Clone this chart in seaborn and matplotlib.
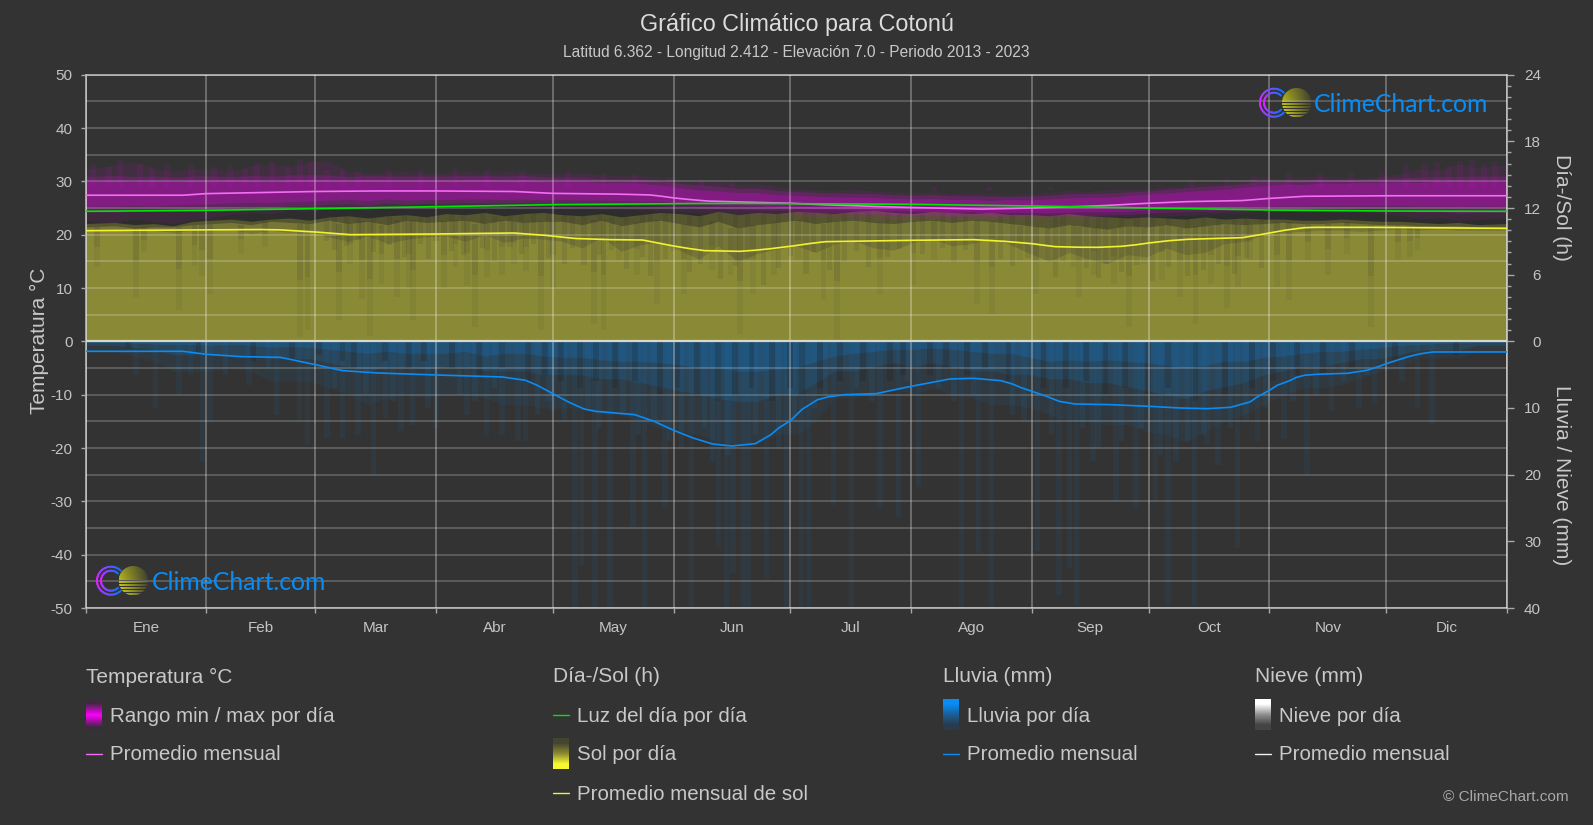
import numpy as np
import matplotlib
matplotlib.use('Agg')
import matplotlib.pyplot as plt
from matplotlib.patches import Circle
import seaborn as sns

W, H = 1593, 825
BG = '#333333'

month_starts = [0, 31, 59, 90, 120, 151, 181, 212, 243, 273, 304, 334, 365]
month_mids = [15.5, 45, 74.5, 105, 135.5, 166, 196.5, 227.5, 258, 288.5, 319, 349.5]
month_names = ['Ene', 'Feb', 'Mar', 'Abr', 'May', 'Jun', 'Jul', 'Ago', 'Sep', 'Oct', 'Nov', 'Dic']

# monthly curves
temp_days = [0, 25, 31, 45, 59, 75, 90, 110, 120, 137, 145, 148, 151, 155, 160, 170, 181, 190, 212, 230, 243, 260, 273, 283, 297, 304, 313, 334, 365]
temp_avg = [27.4, 27.4, 27.7, 27.9, 28.1, 28.2, 28.2, 28.1, 27.75, 27.6, 27.45, 27.2, 26.9, 26.6, 26.3, 26.1, 25.9, 25.6, 25.1, 24.8, 25.0, 25.4, 25.9, 26.2, 26.4, 26.8, 27.2, 27.3, 27.3]

sun_days = [0, 30, 45, 50, 59, 68, 90, 110, 118, 122, 126, 135, 143, 147, 151, 155, 159, 168, 172, 176, 182, 186, 190, 212, 228, 236, 243, 246, 249, 255, 260, 266, 270, 273, 278, 283, 297, 300, 304, 308, 313, 316, 330, 365]
sun_avg = [9.96, 10.03, 10.06, 10.03, 9.84, 9.6, 9.66, 9.75, 9.54, 9.39, 9.25, 9.15, 9.12, 8.85, 8.58, 8.35, 8.16, 8.1, 8.2, 8.34, 8.6, 8.8, 8.97, 9.09, 9.15, 9.0, 8.79, 8.65, 8.52, 8.47, 8.46, 8.55, 8.7, 8.85, 9.05, 9.18, 9.33, 9.5, 9.75, 10.0, 10.23, 10.26, 10.26, 10.17]

light_days = [0, 31, 59, 90, 120, 152, 167, 181, 212, 243, 273, 304, 334, 365]
light_hours = [11.7, 11.79, 11.94, 12.12, 12.3, 12.39, 12.42, 12.39, 12.33, 12.18, 12.0, 11.82, 11.73, 11.7]

rain_days = [0, 25, 31, 40, 50, 59, 66, 75, 90, 107, 113, 116, 120, 124, 128, 131, 134, 141, 146, 151, 156, 161, 166, 172, 176, 178, 181, 184, 188, 191, 195, 203, 212, 217, 222, 228, 235, 238, 240, 243, 247, 250, 254, 263, 273, 281, 288, 294, 299, 301, 304, 306, 309, 311, 313, 316, 324, 329, 332, 334, 337, 340, 343, 346, 365]
rain_avg = [1.5, 1.5, 1.95, 2.3, 2.4, 3.5, 4.4, 4.75, 5.05, 5.35, 5.85, 6.6, 7.85, 9.1, 10.15, 10.5, 10.65, 11.0, 12.0, 13.35, 14.5, 15.4, 15.7, 15.35, 14.0, 13.0, 11.9, 10.2, 8.75, 8.3, 8.0, 7.85, 6.75, 6.2, 5.65, 5.55, 5.9, 6.4, 6.9, 7.5, 8.3, 9.0, 9.4, 9.5, 9.75, 10.0, 10.1, 9.9, 9.1, 8.3, 7.35, 6.6, 5.95, 5.4, 5.1, 4.95, 4.8, 4.35, 3.8, 3.35, 2.8, 2.25, 1.85, 1.6, 1.6]

# 5 day bins across the year, first and last one run out to the axis
bin_days = [0] + [2.5 + 5 * i for i in range(1, 72)] + [365]

temp_far_hi = [32.3, 33.0, 33.6, 32.6, 31.9, 32.4, 32.5, 31.9, 32.9, 33.3, 32.6, 33.7, 33.8, 31.9, 31.6, 31.7, 31.8, 31.6, 31.7, 31.9, 31.6, 31.8, 31.7, 31.5, 31.4, 31.6, 31.2, 31.0, 31.1, 30.8, 30.2, 30.0, 30.3, 29.4, 29.6, 29.0, 28.6, 28.4, 28.2, 28.5, 28.2, 28.0, 27.9, 28.0, 27.7, 27.8, 27.7, 27.6, 27.7, 27.9, 28.3, 28.1, 28.4, 28.6, 28.7, 29.0, 29.2, 29.8, 29.6, 30.3, 30.8, 30.5, 30.9, 31.0, 30.8, 30.6, 31.0, 31.4, 32.4, 32.0, 33.2, 32.6, 33.0]
temp_far_lo = [22.6, 22.2, 23.0, 22.4, 22.0, 22.8, 23.2, 23.8, 24.1, 23.9, 24.6, 24.3, 24.8, 25.0, 24.6, 25.1, 24.9, 25.2, 25.1, 25.4, 25.2, 25.4, 25.3, 25.1, 24.9, 25.0, 24.8, 24.9, 24.6, 24.4, 24.3, 24.1, 24.2, 23.8, 23.6, 23.9, 23.5, 23.3, 23.4, 23.1, 23.2, 22.9, 22.9, 23.0, 22.8, 22.9, 23.0, 23.1, 23.0, 23.1, 23.2, 22.9, 23.2, 23.3, 23.3, 23.5, 23.6, 23.8, 24.0, 24.1, 24.3, 24.4, 24.2, 24.4, 24.1, 24.2, 24.0, 23.6, 23.0, 23.2, 22.6, 22.9, 23.1]
temp_mid_hi = [30.9, 31.1, 30.9, 31.0, 30.8, 31.0, 31.0, 30.9, 31.1, 31.0, 31.2, 31.2, 31.2, 30.9, 31.1, 31.0, 31.0, 31.0, 31.0, 31.1, 31.1, 31.0, 31.1, 30.9, 30.7, 30.8, 30.5, 30.5, 30.4, 30.1, 29.6, 29.3, 29.1, 28.7, 28.7, 28.3, 28.1, 27.9, 27.8, 27.8, 27.7, 27.5, 27.4, 27.5, 27.3, 27.3, 27.2, 27.2, 27.2, 27.4, 27.7, 27.7, 27.8, 28.0, 28.2, 28.5, 28.8, 29.1, 29.2, 29.6, 30.0, 30.1, 30.2, 30.4, 30.3, 30.4, 30.6, 30.7, 30.8, 30.9, 30.9, 31.0, 31.0]
temp_mid_lo = [24.4, 24.2, 24.5, 24.3, 24.4, 24.7, 24.8, 25.1, 25.2, 25.0, 25.4, 25.4, 25.7, 25.8, 25.5, 25.9, 25.7, 25.9, 25.9, 26.0, 26.0, 26.0, 26.0, 25.8, 25.8, 25.8, 25.7, 25.7, 25.5, 25.4, 25.2, 25.0, 24.9, 24.7, 24.6, 24.6, 24.3, 24.1, 24.1, 23.9, 23.9, 23.7, 23.7, 23.7, 23.5, 23.6, 23.5, 23.6, 23.6, 23.6, 23.7, 23.6, 23.7, 23.8, 24.0, 24.2, 24.3, 24.4, 24.5, 24.6, 24.8, 24.9, 24.8, 25.0, 24.8, 24.9, 24.8, 24.6, 24.2, 24.3, 24.0, 24.2, 24.2]
temp_core_hi = [30.0, 30.2, 29.9, 30.1, 30.0, 30.2, 30.1, 30.3, 30.2, 30.0, 30.3, 30.4, 30.3, 30.2, 30.4, 30.3, 30.2, 30.3, 30.2, 30.3, 30.4, 30.2, 30.3, 30.1, 29.9, 30.0, 29.7, 29.8, 29.6, 29.3, 28.8, 28.4, 28.2, 27.9, 27.9, 27.5, 27.4, 27.2, 27.1, 27.0, 27.0, 26.8, 26.7, 26.8, 26.6, 26.6, 26.4, 26.6, 26.5, 26.7, 26.9, 27.0, 27.0, 27.3, 27.6, 27.8, 28.1, 28.3, 28.5, 28.9, 29.2, 29.5, 29.4, 29.7, 29.6, 29.8, 29.8, 29.9, 29.8, 30.0, 29.9, 30.0, 30.0]
temp_core_lo = [25.3, 25.4, 25.5, 25.4, 25.6, 25.7, 25.8, 26.0, 26.1, 26.0, 26.2, 26.3, 26.5, 26.6, 26.4, 26.7, 26.5, 26.6, 26.6, 26.7, 26.7, 26.6, 26.7, 26.5, 26.6, 26.5, 26.5, 26.4, 26.3, 26.3, 26.0, 25.9, 25.6, 25.5, 25.4, 25.2, 25.0, 24.9, 24.8, 24.6, 24.6, 24.5, 24.4, 24.4, 24.2, 24.3, 24.1, 24.2, 24.2, 24.1, 24.2, 24.3, 24.3, 24.4, 24.6, 24.8, 24.9, 25.0, 25.1, 25.2, 25.3, 25.4, 25.4, 25.5, 25.5, 25.5, 25.5, 25.5, 25.4, 25.4, 25.3, 25.4, 25.3]

# single hot days poking out above the band
tip_days = [2, 6, 9, 14, 17, 21, 27, 33, 37, 41, 44, 48, 52, 55, 58, 62, 66, 70, 78, 86, 95, 103, 112, 124, 133, 141, 150, 158, 166, 176, 188, 200, 218, 232, 248, 258, 266, 276, 284, 293, 300, 309, 317, 325, 333, 339, 344, 347, 350, 353, 356, 359, 362]
tip_hi = [33.2, 32.6, 34.0, 33.4, 32.4, 33.2, 33.0, 32.6, 33.0, 32.4, 33.6, 33.8, 33.0, 34.2, 33.6, 32.2, 32.4, 32.0, 32.1, 32.2, 32.3, 32.1, 31.9, 31.8, 31.5, 31.3, 30.9, 30.4, 30.0, 29.2, 29.0, 28.7, 28.2, 28.2, 28.4, 28.8, 28.9, 29.4, 30.0, 30.4, 31.0, 31.6, 31.4, 31.5, 32.0, 33.0, 33.4, 33.6, 32.8, 33.9, 34.0, 33.2, 33.6]

sun_peak = [10.6, 10.7, 10.5, 10.6, 10.4, 10.8, 10.9, 11.0, 10.8, 11.0, 11.1, 10.9, 11.2, 11.3, 11.1, 11.3, 11.4, 11.2, 11.5, 11.4, 11.6, 11.3, 11.5, 11.6, 11.4, 11.3, 11.5, 11.2, 11.4, 11.6, 11.5, 11.3, 11.7, 11.4, 11.6, 11.5, 11.7, 11.6, 11.5, 11.7, 11.8, 11.6, 11.5, 11.7, 11.6, 11.5, 11.6, 11.4, 11.4, 11.3, 11.5, 11.3, 11.2, 11.1, 11.2, 11.1, 11.0, 11.2, 11.0, 11.1, 11.0, 11.0, 10.9, 10.9, 11.0, 10.9, 10.8, 10.8, 10.7, 10.6, 10.7, 10.5, 10.6]
sun_mid = [10.3, 10.4, 10.2, 10.3, 10.3, 10.5, 10.6, 10.7, 10.5, 10.8, 10.7, 10.6, 10.9, 10.6, 10.8, 10.5, 10.9, 10.7, 10.8, 10.9, 10.6, 10.9, 10.7, 10.8, 10.8, 10.5, 10.9, 10.4, 10.7, 10.9, 10.6, 10.3, 10.8, 10.2, 10.5, 10.7, 10.9, 10.6, 10.8, 10.9, 10.7, 10.6, 10.8, 10.9, 10.7, 10.9, 10.8, 10.6, 10.4, 10.2, 10.5, 10.3, 10.1, 10.4, 10.3, 10.5, 10.2, 10.4, 10.6, 10.5, 10.6, 10.7, 10.6, 10.6, 10.7, 10.6, 10.5, 10.5, 10.4, 10.4, 10.4, 10.3, 10.3]
sun_solid = [10.0, 10.1, 9.9, 10.0, 9.8, 10.0, 10.0, 10.1, 9.7, 10.0, 9.8, 9.9, 9.4, 9.0, 9.5, 8.8, 9.2, 9.4, 9.5, 9.0, 9.6, 8.9, 9.3, 9.2, 9.0, 8.4, 9.4, 8.1, 8.7, 9.0, 8.2, 7.4, 8.6, 7.2, 7.9, 8.3, 8.6, 8.0, 8.8, 9.0, 8.4, 8.2, 8.9, 9.2, 8.6, 8.8, 9.3, 8.7, 7.9, 7.2, 8.0, 7.4, 7.0, 7.8, 7.6, 8.4, 7.8, 8.0, 8.8, 9.0, 9.6, 9.8, 9.9, 10.0, 10.0, 9.9, 10.0, 10.1, 10.0, 10.1, 10.0, 10.0, 10.0]

# days with little sun, they show as dark streaks hanging from the top
dip_days = [3, 13, 15, 24, 28, 30, 32, 40, 46, 55, 57, 65, 68, 71, 73, 76, 80, 83, 84, 92, 95, 98, 100, 103, 107, 110, 113, 117, 120, 130.5, 133, 137, 141.6, 146.7, 153.6, 160.9, 165.6, 168, 171.5, 176.7, 183, 189.5, 193, 204, 212.6, 217.8, 229, 232.8, 240, 244, 247, 253.7, 255, 258.9, 264, 268, 271.7, 276.4, 281, 285, 289, 293, 296, 299, 306, 309, 314, 319, 324, 330, 337, 340, 342]
dip_hours = [6.7, 4.0, 8.0, 2.8, 6.8, 5.9, 4.3, 7.9, 8.5, 0.4, 1.0, 1.9, 7.0, 3.8, 0.5, 5.2, 4.0, 4.8, 1.9, 4.8, 6.7, 5.0, 1.3, 5.8, 6.0, 7.0, 6.3, 1.0, 4.8, 1.6, 1.0, 7.3, 6.0, 3.4, 4.3, 6.4, 6.0, 0.7, 4.3, 6.0, 7.3, 3.7, 0.1, 4.3, 5.1, 7.3, 3.4, 2.5, 7.3, 4.3, 7.3, 6.7, 4.0, 6.0, 5.2, 1.3, 7.0, 5.5, 4.0, 1.6, 5.2, 3.0, 4.9, 7.3, 4.9, 3.7, 7.3, 6.0, 7.9, 1.3, 7.3, 7.6, 8.2]
# shorter and weaker streaks
streak_days = [62, 64, 67, 70, 74, 78, 82, 86, 88, 90, 94, 97, 102, 105, 109, 112, 115, 119, 123, 125, 128, 132, 135, 139, 143, 145, 149, 151, 155, 158, 163, 167, 170, 174, 178, 181, 185, 187, 191, 195, 198, 201, 206, 209, 215, 220, 223, 226, 235, 238, 242, 249, 251, 257, 260, 262, 266, 270, 274, 278, 283, 287, 291, 295, 298, 302]
streak_hours = [9.0, 8.2, 8.6, 9.1, 8.0, 8.7, 7.6, 8.8, 7.4, 9.0, 8.1, 7.8, 8.4, 7.2, 8.5, 7.9, 8.8, 7.5, 7.0, 8.4, 6.9, 7.8, 8.2, 6.5, 7.6, 5.9, 7.4, 8.1, 6.2, 7.0, 5.6, 6.8, 7.3, 5.1, 6.6, 7.7, 6.1, 8.0, 6.4, 7.2, 8.1, 6.7, 7.6, 8.3, 7.9, 8.4, 7.1, 8.2, 7.4, 6.8, 7.5, 5.8, 7.2, 6.6, 5.7, 7.0, 6.2, 6.9, 5.4, 6.7, 5.9, 6.4, 7.0, 6.1, 7.5, 6.6]

rain_shallow = [0.2, 0.2, 0.3, 0.4, 0.5, 0.5, 0.6, 0.5, 0.6, 0.9, 0.8, 0.9, 1.2, 1.5, 1.8, 1.5, 1.8, 1.8, 1.8, 1.5, 2.2, 1.8, 1.8, 2.2, 2.4, 2.4, 2.8, 3.0, 3.0, 3.2, 3.5, 4.0, 4.0, 4.5, 4.5, 4.2, 4.0, 3.0, 2.2, 1.8, 1.5, 1.2, 1.2, 1.0, 1.2, 1.5, 1.8, 1.8, 2.4, 3.0, 2.8, 3.0, 2.8, 3.0, 3.2, 3.6, 4.0, 3.6, 3.0, 3.0, 2.4, 2.2, 1.8, 1.5, 1.5, 1.2, 1.0, 0.6, 0.5, 0.3, 0.3, 0.2, 0.2]
rain_mid = [0.6, 0.6, 0.9, 1.2, 2.0, 2.0, 2.0, 2.0, 2.2, 2.6, 2.6, 2.6, 3.2, 3.8, 4.4, 3.8, 3.8, 4.2, 3.8, 3.8, 4.4, 4.4, 4.4, 5.0, 5.0, 5.0, 5.6, 5.6, 6.2, 6.8, 7.4, 8.0, 8.6, 9.0, 9.0, 8.0, 8.0, 6.2, 4.4, 4.4, 3.8, 3.2, 3.8, 3.2, 3.8, 4.4, 4.4, 5.0, 5.0, 5.6, 5.6, 6.2, 6.2, 6.8, 7.4, 8.0, 8.6, 7.4, 6.8, 6.2, 5.0, 4.4, 3.8, 3.8, 3.2, 2.6, 2.6, 2.0, 1.3, 1.3, 1.3, 0.6, 0.6]
rain_deep = [1.5, 1.5, 2.2, 3.0, 4.5, 4.5, 4.5, 4.0, 4.5, 6.0, 6.0, 6.0, 7.0, 8.0, 9.5, 8.5, 8.0, 8.5, 8.0, 8.0, 8.5, 9.5, 9.5, 10.0, 10.0, 10.0, 11.0, 11.0, 12.0, 13.0, 13.5, 14.0, 15.0, 15.5, 15.5, 14.0, 14.0, 12.0, 8.5, 8.5, 8.0, 7.0, 8.0, 7.0, 8.0, 8.5, 9.5, 9.5, 10.0, 11.0, 12.0, 12.0, 12.5, 12.5, 13.5, 14.0, 15.0, 13.5, 12.0, 11.0, 9.5, 8.0, 7.0, 7.0, 6.5, 5.5, 4.5, 4.0, 2.5, 2.5, 2.5, 1.5, 1.5]

spike_days = [13, 18, 24, 27, 30, 32, 42, 49, 55, 57, 62, 66, 70, 74, 77, 81, 84, 90, 98, 103, 107, 111, 113, 120, 125.7, 127.4, 130.8, 134.7, 140.6, 143.6, 148.8, 155.6, 162.5, 164.6, 166.3, 168.9, 170.2, 174.9, 180, 183.9, 185.6, 192, 196.7, 204, 208.7, 213.9, 225, 229.3, 232.7, 244.4, 250, 252.7, 254.5, 258.7, 264.6, 269.7, 274.7, 277.9, 284.8, 288, 290.8, 295.8, 300.9, 307.7, 313.7, 320, 327, 331, 338, 342, 345.8]
spike_mm = [5, 10, 8, 5, 18, 12, 6.5, 11, 12, 15.5, 14.5, 14.5, 14, 20, 11.5, 13.5, 12.5, 13, 11, 14, 14, 15, 15, 10.5, 40, 33.5, 40, 40, 27.8, 40, 24.8, 40, 30.8, 40, 34.8, 40, 40, 35.8, 40, 40, 40, 24.5, 40, 24.8, 26.3, 21.8, 40, 31.8, 40, 31.5, 38, 34, 39.6, 18, 24, 25, 24, 39.6, 39.6, 15.6, 18.6, 31, 15, 14.6, 20, 10.5, 10, 9.4, 6, 10, 12.5]

# shorter wet streaks that break up the fade
wet_days = [36, 47, 64, 72, 79, 88, 96, 100, 105, 116, 119, 123, 129, 132, 138, 142, 146, 150, 153, 159, 161, 165, 172, 178, 182, 187, 190, 198, 202, 211, 219, 223, 228, 238, 241, 248, 256, 260, 266, 271, 276, 280, 283, 287, 294, 298, 303, 310, 316, 323, 329]
wet_mm = [5, 4, 7, 8, 9, 10, 8, 9, 7, 11, 9, 12, 10, 13, 11, 14, 12, 15, 16, 13, 18, 17, 14, 16, 12, 10, 8, 7, 9, 6, 7, 9, 8, 11, 12, 14, 13, 16, 15, 13, 17, 18, 15, 14, 13, 12, 10, 9, 8, 6, 5]

gap_days = [11, 29, 43, 53, 60, 66, 69, 77, 83, 87, 94, 101, 107, 113.7, 118, 122, 127, 131, 136, 141, 147.5, 152, 157, 162.5, 166.8, 171, 176.2, 181, 184, 188.6, 193.7, 199.7, 206.6, 210, 216.8, 221, 226.3, 231, 237, 246, 251.8, 257, 261.9, 267, 272.9, 278, 285, 292.6, 299.5, 305, 311, 317.8, 325.2, 336.2, 351.8]
gap_mm = [1, 2, 3, 3, 2, 3, 4, 3, 4, 3, 4, 5, 4, 6, 5, 6, 7, 6, 7, 6, 8, 7, 8, 9, 8, 7, 9, 7, 8, 7, 6, 6, 6, 5, 5, 4, 5, 4, 6, 7, 7, 6, 8, 7, 8, 7, 9, 8, 7, 6, 5, 5, 4, 3, 2]

sns.set_theme(style='dark', rc={
    'figure.facecolor': BG,
    'axes.facecolor': 'none',
    'axes.edgecolor': '#c4c4c4',
    'xtick.color': '#a8a8a8',
    'ytick.color': '#a8a8a8',
    'xtick.labelcolor': '#c4c4c4',
    'ytick.labelcolor': '#c4c4c4',
})
plt.rcParams['font.family'] = ['Liberation Sans', 'DejaVu Sans']
plt.rcParams['axes.unicode_minus'] = False

fig = plt.figure(figsize=(W / 100, H / 100), dpi=100, facecolor=BG)

left, right, top, zero, bottom = 85.5, 1507.0, 74.7, 341.3, 608.0


def axes_px(t, b, z):
    a = fig.add_axes([left / W, 1 - b / H, (right - left) / W, (b - t) / H], zorder=z)
    a.patch.set_visible(False)
    return a


sun_ax = axes_px(top, zero, 1)
rain_ax = axes_px(zero, bottom, 1)
ax = axes_px(top, bottom, 2)
deco = fig.add_axes([0, 0, 1, 1], zorder=3)
deco.patch.set_visible(False)
deco.axis('off')

# sun, solid olive with dimmer tops
sun_ax.fill_between(light_days, light_hours, color='#2d2d2d', linewidth=0)
sun_ax.fill_between(bin_days, sun_peak, color='#55552f', linewidth=0)
sun_ax.fill_between(bin_days, sun_mid, color='#767636', linewidth=0)
sun_ax.fill_between(bin_days, sun_solid, color='#8a8a36', linewidth=0)
dip_tops = [sun_mid[min(int(d // 5), 72)] for d in dip_days]
dip_half = [(t + d) / 2 for t, d in zip(dip_tops, dip_hours)]
sun_ax.bar(dip_days, [t - d for t, d in zip(dip_tops, dip_hours)], bottom=dip_hours, width=1.5,
           color='#333333', alpha=0.07, linewidth=0)
sun_ax.bar(dip_days, [t - d for t, d in zip(dip_tops, dip_half)], bottom=dip_half, width=1.5,
           color='#333333', alpha=0.1, linewidth=0)
streak_tops = [sun_peak[min(int(d // 5), 72)] for d in streak_days]
sun_ax.bar(streak_days, [t - d for t, d in zip(streak_tops, streak_hours)], bottom=streak_hours, width=1.3,
           color='#333333', alpha=0.13, linewidth=0)

# rain, alpha layers stack into the fade
rain_blue = '#0d80d8'
rain_ax.fill_between(bin_days, rain_deep, color=rain_blue, alpha=0.08, linewidth=0)
rain_ax.bar(spike_days, spike_mm, width=1.4, color=rain_blue, alpha=0.08, linewidth=0)
rain_ax.bar(wet_days, wet_mm, width=1.4, color=rain_blue, alpha=0.1, linewidth=0)
rain_ax.fill_between(bin_days, rain_mid, color=rain_blue, alpha=0.17, linewidth=0)
rain_ax.fill_between(bin_days, rain_shallow, color=rain_blue, alpha=0.24, linewidth=0)
rain_ax.bar(gap_days, gap_mm, width=1.5, color='#222222', alpha=0.24, linewidth=0)

# temperature band
temp_col = '#f000f0'
ax.bar(tip_days, [h - 29 for h in tip_hi], bottom=29, width=1.5, color=temp_col, alpha=0.07, linewidth=0)
for lo, hi, al in [(temp_far_lo, temp_far_hi, 0.08), (temp_mid_lo, temp_mid_hi, 0.18), (temp_core_lo, temp_core_hi, 0.24)]:
    ax.fill_between(bin_days, lo, hi, color=temp_col, alpha=al, linewidth=0)

sns.lineplot(x=temp_days, y=temp_avg, color='#f56cf5', linewidth=1.2, zorder=4, ax=ax)
sns.lineplot(x=light_days, y=light_hours, color='#00e600', linewidth=1.2, zorder=4, ax=ax, transform=sun_ax.transData)
sns.lineplot(x=sun_days, y=sun_avg, color='#f2f230', linewidth=1.2, zorder=4, ax=ax, transform=sun_ax.transData)
sns.lineplot(x=rain_days, y=rain_avg, color='#0a8cf5', linewidth=1.2, zorder=4, ax=ax, transform=rain_ax.transData)

# main axes
ax.set_xlim(0, 365)
ax.set_ylim(-50, 50)
ax.set_xticks(month_starts)
ax.set_xticklabels([])
ax.set_xticks(month_mids, month_names, minor=True)
ax.set_yticks(range(-50, 51, 10))
ax.set_yticks(range(-45, 50, 10), minor=True)
ax.set_axisbelow(False)
ax.grid(False)
ax.grid(which='major', axis='x', color='white', alpha=0.36, linewidth=1.1)
ax.grid(which='major', axis='y', color='white', alpha=0.25, linewidth=1.1)
ax.grid(which='minor', axis='y', color='white', alpha=0.25, linewidth=1.1)
ax.tick_params(axis='x', which='major', length=3.8, width=1, bottom=True)
ax.tick_params(axis='x', which='minor', length=0, labelsize=11, pad=9.5, bottom=False)
ax.tick_params(axis='y', which='major', length=3.8, width=1, labelsize=11, pad=5.4, left=True)
ax.tick_params(axis='y', which='minor', length=0)
ax.axhline(0, color='#d8d8c8', linewidth=1.6, zorder=3)
for s in ax.spines.values():
    s.set_visible(True)
    s.set_linewidth(1.1)
ax.set_xlabel('')
ax.set_ylabel('')

# right side scales
sun_ax.set_xlim(0, 365)
sun_ax.set_ylim(0, 24)
rain_ax.set_xlim(0, 365)
rain_ax.set_ylim(40, 0)
for a in (sun_ax, rain_ax):
    a.set_xticks([])
    a.set_xlabel('')
    a.set_ylabel('')
    a.grid(False)
    a.yaxis.tick_right()
    for s in a.spines.values():
        s.set_visible(False)
sun_ax.set_yticks(range(0, 25, 6))
sun_ax.set_yticks(range(0, 25), minor=True)
rain_ax.set_yticks(range(10, 41, 10))
for a in (sun_ax, rain_ax):
    a.tick_params(axis='y', which='major', length=5, width=1, labelsize=11, pad=19.5, right=True)
    a.tick_params(axis='y', which='minor', length=3, width=1, right=True)
    for lab in a.get_yticklabels():
        lab.set_ha('right')


# everything below is placed in pixels on the overlay
def put(x, y, s, size=14.8, color='#c8c8c8', **kw):
    kw.setdefault('va', 'center')
    deco.text(x, y, s, fontsize=size, color=color, **kw)


put(W / 2, 24.5, 'Gráfico Climático para Cotonú', size=16.8, color='#dcdcdc', ha='center')
put(W / 2, 53, 'Latitud 6.362 - Longitud 2.412 - Elevación 7.0 - Periodo 2013 - 2023', size=11.2, ha='center')
put(39, zero, 'Temperatura °C', size=15, rotation=90, ha='center')
put(1561, 207, 'Día-/Sol (h)', size=15, rotation=270, ha='center')
put(1561, 475, 'Lluvia / Nieve (mm)', size=15, rotation=270, ha='center')
put(1569, 797, '© ClimeChart.com', size=11.1, color='#a8a8a8', ha='right')


def gradient(x, t, b, stops):
    rows = np.array([matplotlib.colors.to_rgb(c) for c in stops])[:, None, :]
    deco.imshow(rows, extent=[x, x + 16, b, t], aspect='auto', interpolation='bilinear', zorder=2)


cols = [86, 553.4, 943, 1255]
for x, s in zip(cols, ['Temperatura °C', 'Día-/Sol (h)', 'Lluvia (mm)', 'Nieve (mm)']):
    put(x, 677, s, size=15)

gradient(cols[0], 700, 730, ['#3d2a3d', '#a010a0', '#ff00ff', '#a010a0', '#3d2a3d'])
put(cols[0] + 24, 716, 'Rango min / max por día')
deco.plot([cols[0], cols[0] + 16], [754, 754], color='#f56cf5', lw=1.0)
put(cols[0] + 24, 755, 'Promedio mensual')

deco.plot([cols[1], cols[1] + 16], [715, 715], color='#00e600', lw=1.0)
put(cols[1] + 24, 716, 'Luz del día por día')
gradient(cols[1], 738, 769, ['#44442f', '#8a8a30', '#f8f830'])
put(cols[1] + 24, 755, 'Sol por día')
deco.plot([cols[1], cols[1] + 16], [793, 793], color='#f2f230', lw=1.0)
put(cols[1] + 24, 794, 'Promedio mensual de sol')

gradient(cols[2], 699, 730, ['#0a8cf5', '#1a5f96', '#2a3c4c'])
put(cols[2] + 24, 716, 'Lluvia por día')
deco.plot([cols[2], cols[2] + 16], [754, 754], color='#0a8cf5', lw=1.0)
put(cols[2] + 24, 755, 'Promedio mensual')

gradient(cols[3], 699, 730, ['#ffffff', '#909090', '#444444'])
put(cols[3] + 24, 716, 'Nieve por día')
deco.plot([cols[3], cols[3] + 16], [754, 754], color='#f0f0f0', lw=1.0)
put(cols[3] + 24, 755, 'Promedio mensual')


def logo(cx, cy, sx, text_x, text_y):
    # double ring, magenta to blue
    theta = np.radians(np.linspace(45, 315, 60))
    for r in (14.0, 10.0):
        for i in range(len(theta) - 1):
            f = abs(theta[i] - np.pi) / (np.pi * 0.75)
            col = (0.9 - 0.85 * f, 0.12 + 0.33 * f, 1.0)
            deco.plot(cx + r * np.cos(theta[i:i + 2]), cy - r * np.sin(theta[i:i + 2]), color=col, lw=1.4,
                      solid_capstyle='round')
    # striped sun, fades out to the right and the top
    n = 30
    img = np.zeros((n, n, 4))
    img[:, :, 0] = 0.85
    img[:, :, 1] = 0.85
    img[:, :, 2] = 0.1
    img[:, :, 3] = np.linspace(1, 0.1, n)[None, :] * np.linspace(0.6, 1, n)[:, None]
    for row in range(13, n):
        if (row - 13) % 3 == 2:
            img[row, :, 3] = 0.0
    im = deco.imshow(img, extent=[sx - 14.7, sx + 14.7, cy + 14.7, cy - 14.7], aspect='auto', zorder=2)
    im.set_clip_path(Circle((sx, cy), 14.7, transform=deco.transData))
    deco.text(text_x, text_y, 'ClimeChart.com', fontsize=17.8, color='#0a8cf5', family=['Lato', 'DejaVu Sans'],
              va='baseline')


logo(1274, 102.7, 1296.7, 1314, 111.7)
logo(111, 580.7, 133.3, 151.7, 590)

deco.set_xlim(0, W)
deco.set_ylim(H, 0)

fig.savefig('out.png', dpi=100, facecolor=BG)
